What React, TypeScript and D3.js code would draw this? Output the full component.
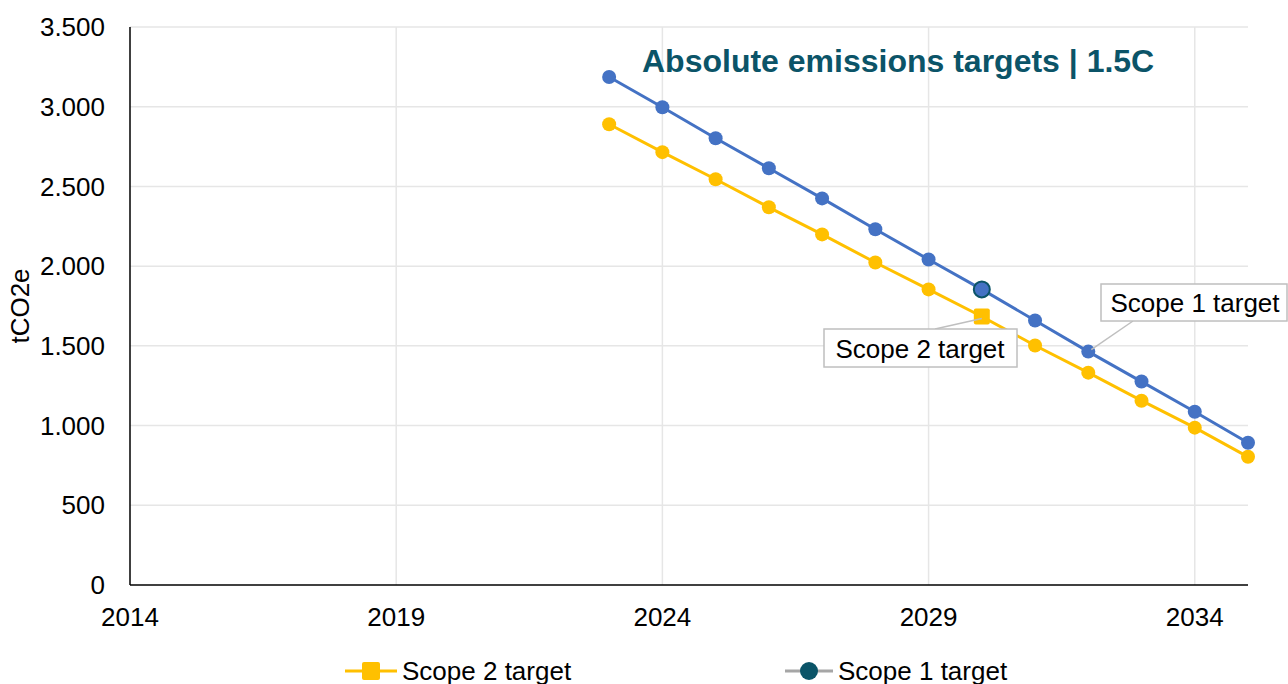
import React from 'react';
import * as d3 from 'd3';

const years = [2023, 2024, 2025, 2026, 2027, 2028, 2029, 2030, 2031, 2032, 2033, 2034, 2035];
const scope1Values = [3186, 2997, 2802, 2614, 2425, 2231, 2042, 1854, 1659, 1464, 1276, 1087, 892];
const scope2Values = [2890, 2715, 2545, 2369, 2199, 2023, 1854, 1684, 1502, 1332, 1156, 987, 804];
const xTicks = [2014, 2019, 2024, 2029, 2034];
const yTicks = [0, 500, 1000, 1500, 2000, 2500, 3000, 3500];
const targetYear = 2030;
const scope1LabelYear = 2032;

const W = 1288;
const H = 684;
const margin = { left: 130, right: 40, top: 27, bottom: 99 };
const blue = '#4472C4';
const yellow = '#FFC000';
const teal = '#0B5468';
const font = '"Liberation Sans", Arial, sans-serif';

const fmt = (v: number) => v === 0 ? '0' : d3.format(',')(v).replace(',', '.');

export default function App() {
  const x = d3.scaleLinear().domain([2014, 2035]).range([margin.left, W - margin.right]);
  const y = d3.scaleLinear().domain([0, 3500]).range([H - margin.bottom, margin.top]);
  const line = d3.line<number>().x((_, i) => x(years[i])).y(d => y(d));

  const ti = years.indexOf(targetYear);
  const s1 = years.indexOf(scope1LabelYear);
  const t1x = x(targetYear), t1y = y(scope1Values[ti]);
  const t2y = y(scope2Values[ti]);
  const l1x = x(scope1LabelYear), l1y = y(scope1Values[s1]);

  return (
    <svg width={W} height={H} style={{ position: 'absolute', left: 0, top: 0, background: '#fff' }} fontFamily={font}>
      {/* grid */}
      {yTicks.filter(t => t > 0).map(t => (
        <line key={'gy' + t} x1={x.range()[0]} x2={x.range()[1]} y1={y(t)} y2={y(t)} stroke="#e6e6e6" strokeWidth={1.5} />
      ))}
      {xTicks.filter(t => t > 2014).map(t => (
        <line key={'gx' + t} x1={x(t)} x2={x(t)} y1={y(0)} y2={y(3500)} stroke="#e6e6e6" strokeWidth={1.5} />
      ))}
      {/* axes */}
      <line x1={x.range()[0]} x2={x.range()[0]} y1={y(0)} y2={y(3500)} stroke="#000" strokeWidth={1.5} />
      <line x1={x.range()[0]} x2={x.range()[1]} y1={y(0)} y2={y(0)} stroke="#000" strokeWidth={1.5} />
      {yTicks.map(t => (
        <text key={'yt' + t} x={105} y={y(t)} dy="0.35em" textAnchor="end" fontSize={26} fill="#000">{fmt(t)}</text>
      ))}
      {xTicks.map(t => (
        <text key={'xt' + t} x={x(t)} y={y(0) + 41} textAnchor="middle" fontSize={26} fill="#000">{t}</text>
      ))}
      <text transform={`translate(29,${(y(0) + y(3500)) / 2}) rotate(-90)`} textAnchor="middle" fontSize={26} fill="#000">tCO2e</text>

      {/* series */}
      <path d={line(scope2Values) || ''} fill="none" stroke={yellow} strokeWidth={3} />
      <path d={line(scope1Values) || ''} fill="none" stroke={blue} strokeWidth={3} />
      {scope2Values.map((v, i) => (
        <circle key={'s2' + i} cx={x(years[i])} cy={y(v)} r={7} fill={yellow} />
      ))}
      {scope1Values.map((v, i) => (
        <circle key={'s1' + i} cx={x(years[i])} cy={y(v)} r={7} fill={blue} />
      ))}
      {/* target markers */}
      <rect x={t1x - 8} y={t2y - 8} width={16} height={16} rx={2} fill={yellow} />
      <circle cx={t1x} cy={t1y} r={8} fill={blue} stroke={teal} strokeWidth={2} />

      {/* callouts */}
      <line x1={935} y1={329} x2={t1x} y2={t2y + 2} stroke="#bfbfbf" strokeWidth={1.5} />
      <rect x={824} y={329} width={193} height={38} fill="#fff" stroke="#bfbfbf" strokeWidth={1.5} />
      <text x={920} y={358} textAnchor="middle" fontSize={26} fill="#000">Scope 2 target</text>
      <line x1={1133} y1={321} x2={l1x + 3} y2={l1y - 2} stroke="#bfbfbf" strokeWidth={1.5} />
      <rect x={1101} y={284} width={186} height={37} fill="#fff" stroke="#bfbfbf" strokeWidth={1.5} />
      <text x={1195} y={312} textAnchor="middle" fontSize={26} fill="#000">Scope 1 target</text>

      {/* title */}
      <text x={642} y={72} fontSize={32} fontWeight="bold" fill={teal}>Absolute emissions targets | 1.5C</text>

      {/* legend */}
      <line x1={345} x2={397} y1={671} y2={671} stroke={yellow} strokeWidth={3} />
      <rect x={362} y={662} width={18} height={18} rx={2} fill={yellow} />
      <text x={402} y={680} fontSize={26} fill="#000">Scope 2 target</text>
      <line x1={785} x2={833} y1={671} y2={671} stroke="#a6a6a6" strokeWidth={3} />
      <circle cx={809} cy={671} r={9} fill={teal} />
      <text x={838} y={680} fontSize={26} fill="#000">Scope 1 target</text>
    </svg>
  );
}
